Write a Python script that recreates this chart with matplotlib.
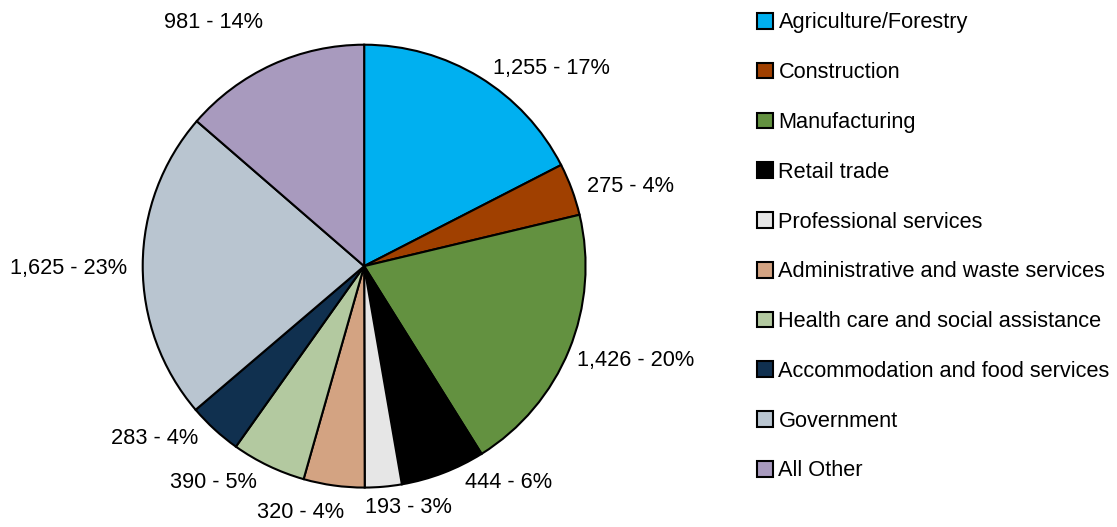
import matplotlib.pyplot as plt
import matplotlib.patches as mpatches

plt.rcParams['font.family'] = ['Liberation Sans', 'DejaVu Sans']

sectors = ['Agriculture/Forestry', 'Construction', 'Manufacturing', 'Retail trade',
           'Professional services', 'Administrative and waste services',
           'Health care and social assistance', 'Accommodation and food services',
           'Government', 'All Other']
jobs = [1255, 275, 1426, 444, 193, 320, 390, 283, 1625, 981]
shares = [17, 4, 20, 6, 3, 4, 5, 4, 23, 14]
colors = ['#00b0f0', '#a04000', '#639140', '#000000', '#e6e6e6', '#d3a382',
          '#b3c9a0', '#10304f', '#b9c5d0', '#a89abe']

labels = [f'{v:,} - {p}%' for v, p in zip(jobs, shares)]

# where the data labels sit (centres, in pie-radius units), as in the original layout
label_pos = [(0.844, 0.894), (1.205, 0.361), (1.228, -0.424), (0.650, -0.975),
             (0.199, -1.088), (-0.289, -1.111), (-0.682, -0.975), (-0.944, -0.777),
             (-1.336, -0.009), (-0.682, 1.102)]

fig = plt.figure(figsize=(11.17, 5.27), dpi=100)
ax = fig.add_axes([0.0, -0.005, 0.652, 1.0])
wedges, _ = ax.pie(jobs, colors=colors, startangle=90, counterclock=False,
                   wedgeprops=dict(edgecolor='black', linewidth=1.5))
for lab, (x, y) in zip(labels, label_pos):
    ax.text(x, y, lab, ha='center', va='center', fontsize=15.7)
ax.set_aspect('equal')
ax.set_xlim(-1.64, 1.64)
ax.set_ylim(-1.19, 1.19)

handles = [mpatches.Patch(facecolor=c, edgecolor='black', linewidth=1.5) for c in colors]
fig.legend(handles, sectors, loc='upper left', bbox_to_anchor=(0.670, 0.993),
           frameon=False, fontsize=15.7, handlelength=0.73, handleheight=0.73,
           handletextpad=0.25, labelspacing=1.32, borderaxespad=0)

fig.savefig('out.png', dpi=100)
